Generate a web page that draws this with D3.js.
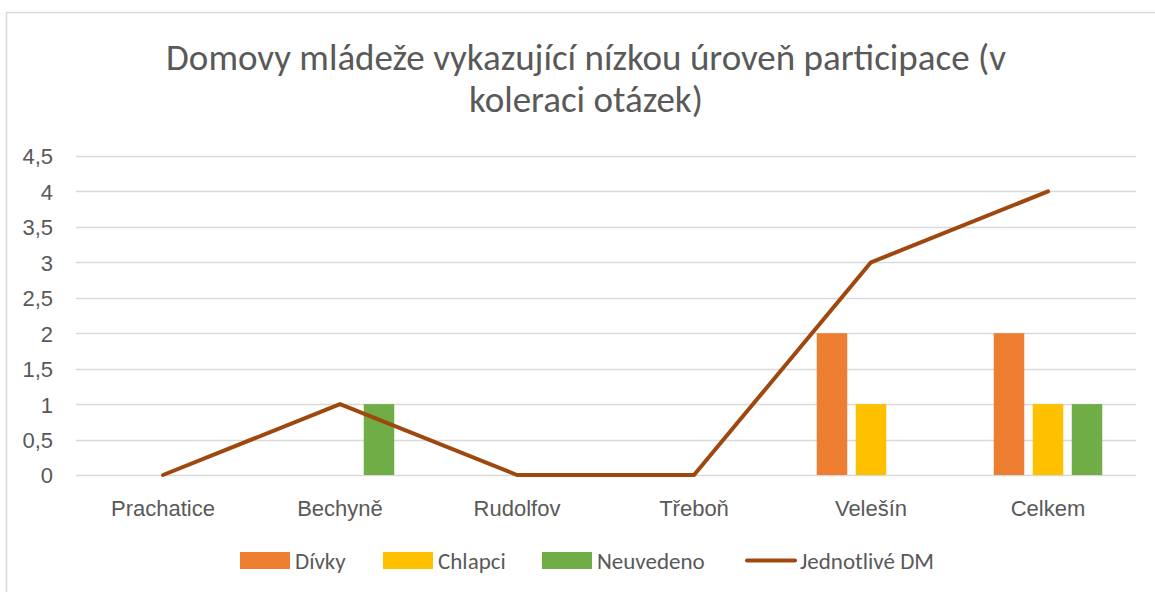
<!DOCTYPE html>
<html><head><meta charset="utf-8">
<script src="https://cdn.jsdelivr.net/npm/d3@7"></script>
<style>
body{margin:0;background:#fff;}
svg{display:block;font-family:Carlito,Lato,"Open Sans",sans-serif;}
</style></head>
<body><svg id="c" width="1155" height="592"></svg>
<script>
const categories = ["Prachatice","Bechyně","Rudolfov","Třeboň","Velešín","Celkem"];
const divky = [0,0,0,0,2,2];
const chlapci = [0,0,0,0,1,1];
const neuvedeno = [0,1,0,0,0,1];
const jednotliveDM = [0,1,0,0,3,4];
const yTicks = [0,0.5,1,1.5,2,2.5,3,3.5,4,4.5];
const seriesNames = ["Dívky","Chlapci","Neuvedeno"];
const lineName = "Jednotlivé DM";
const titleLines = ["Domovy mládeže vykazující nízkou úroveň participace (v","koleraci otázek)"];

const colors = {"Dívky":"#ED7D31","Chlapci":"#FFC000","Neuvedeno":"#70AD47"};
const lineColor = "#9E480E";
const textColor = "#595959";

const svg = d3.select("#c");
svg.append("rect").attr("x",6.5).attr("y",12.5).attr("width",1160).attr("height",600)
  .attr("fill","none").attr("stroke","#d9d9d9").attr("stroke-width",1.5);

const title = svg.append("text").attr("text-anchor","middle").attr("fill",textColor)
  .attr("font-size",37);
titleLines.forEach((t,i)=>title.append("tspan").attr("x",586).attr("y",70+i*42).text(t));

const x = d3.scaleBand().domain(categories).range([74.5,1136.5]);
const y = d3.scaleLinear().domain([0,4.5]).range([475,156]);

// gridlines
svg.append("g").selectAll("line").data(yTicks).join("line")
  .attr("x1",76).attr("x2",1136).attr("y1",d=>Math.round(y(d))+0.5).attr("y2",d=>Math.round(y(d))+0.5)
  .attr("stroke","#d9d9d9").attr("stroke-width",1.3);

// y axis labels
const yAxis = svg.append("g").attr("transform","translate(60,0)")
  .call(d3.axisLeft(y).tickValues(yTicks).tickSize(0).tickPadding(7)
    .tickFormat(d=>String(d).replace(".",",")));
yAxis.select(".domain").remove();
yAxis.selectAll("text").attr("fill",textColor).attr("font-size",22).attr("font-family",null).attr("dy","0.36em");

// x axis labels
const xAxis = svg.append("g").attr("transform","translate(0,475)")
  .call(d3.axisBottom(x).tickSize(0));
xAxis.select(".domain").remove();
xAxis.selectAll("text").attr("fill",textColor).attr("font-size",22).attr("font-family",null)
  .attr("y",41).attr("dy",0);

// bars
const bw = 30.5, step = 39;
const sub = d3.scaleBand().domain(seriesNames).range([-step*1.5, step*1.5]);
const barData = [];
[divky,chlapci,neuvedeno].forEach((arr,si)=>{
  arr.forEach((v,ci)=>barData.push({s:seriesNames[si],c:categories[ci],v}));
});
svg.append("g").selectAll("rect").data(barData.filter(d=>d.v>0)).join("rect")
  .attr("x",d=>x(d.c)+x.bandwidth()/2+sub(d.s)+(sub.bandwidth()-bw)/2)
  .attr("width",bw)
  .attr("y",d=>y(d.v)).attr("height",d=>y(0)-y(d.v))
  .attr("fill",d=>colors[d.s]);

// line
const line = d3.line().x((d,i)=>x(categories[i])+x.bandwidth()/2).y(d=>y(d));
svg.append("path").datum(jednotliveDM).attr("d",line).attr("fill","none")
  .attr("stroke",lineColor).attr("stroke-width",4).attr("stroke-linecap","round").attr("stroke-linejoin","round");

// legend
const lg = svg.append("g").attr("font-size",23).attr("fill",textColor);
const legItems = [
  {n:"Dívky",x:240,type:"rect"},
  {n:"Chlapci",x:383,type:"rect"},
  {n:"Neuvedeno",x:542,type:"rect"},
  {n:lineName,x:745,type:"line"}
];
legItems.forEach(it=>{
  if(it.type==="rect"){
    lg.append("rect").attr("x",it.x).attr("y",552).attr("width",50).attr("height",17).attr("fill",colors[it.n]);
    lg.append("text").attr("x",it.x+55).attr("y",568.5).attr("fill",textColor).text(it.n);
  } else {
    lg.append("line").attr("x1",it.x+2).attr("x2",it.x+50).attr("y1",560.5).attr("y2",560.5)
      .attr("stroke",lineColor).attr("stroke-width",4).attr("stroke-linecap","round");
    lg.append("text").attr("x",it.x+55).attr("y",568.5).attr("fill",textColor).text(it.n);
  }
});
</script></body></html>
